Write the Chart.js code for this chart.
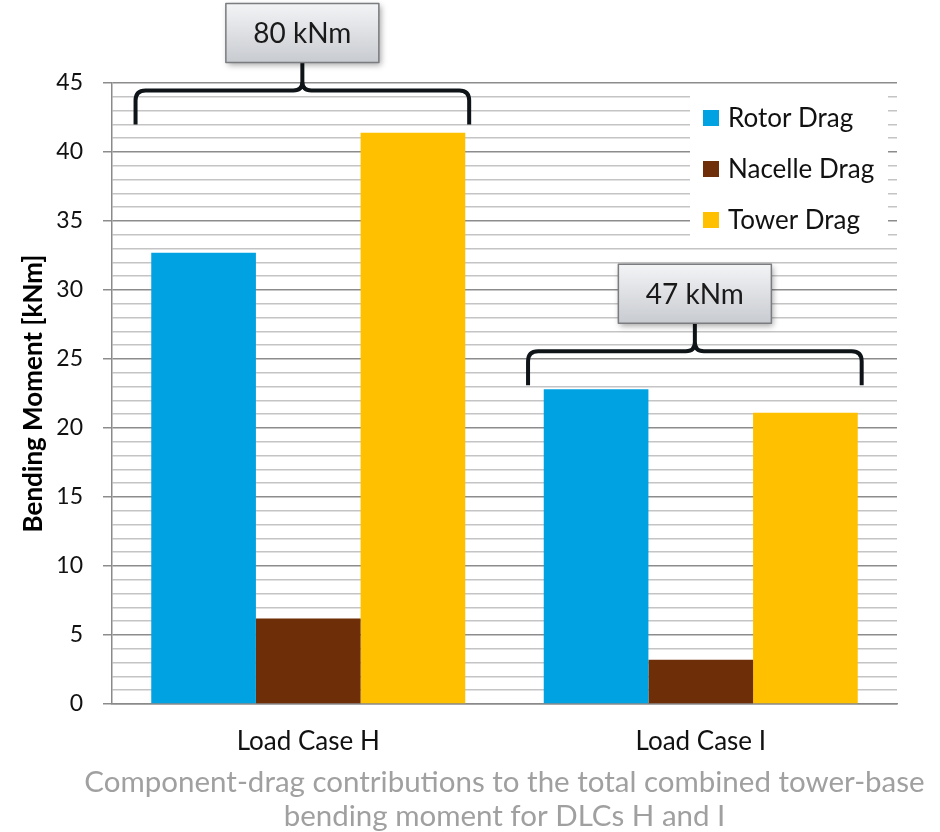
<!DOCTYPE html>
<html>
<head>
<meta charset="utf-8">
<title>Tower-base bending moment</title>
<script src="https://cdn.jsdelivr.net/npm/chart.js@4.4.1/dist/chart.umd.min.js"></script>
<style>
  html, body { margin: 0; padding: 0; background: #fff; }
  #wrap { width: 940px; height: 832px; position: relative; }
</style>
</head>
<body>
<div id="wrap"><canvas id="chart"></canvas></div>
<script>
// Load cases and the drag contribution of each component [kNm]
const categories = ['Load Case H', 'Load Case I'];
const rotorDrag = [32.7, 22.8];
const nacelleDrag = [6.2, 3.2];
const towerDrag = [41.4, 21.1];

// Totals shown above each group, and the value where the brace ends sit
const totalLabels = ['80 kNm', '47 kNm'];
const braceBase = [42, 23.1];

const captionLines = [
  'Component-drag contributions to the total combined tower-base',
  'bending moment for DLCs H and I',
];

const FONT = 'Lato, "Open Sans", sans-serif';

// ── Legend box drawn inside the plot area ────────────────────────────────────
const innerLegend = {
  id: 'innerLegend',
  afterDatasetsDraw(chart) {
    const { ctx, chartArea } = chart;
    const right = chartArea.right - 9;
    const left = right - 198;
    const top = chartArea.top + 2;
    ctx.save();
    ctx.fillStyle = '#fff';
    ctx.fillRect(left, top, 198, 160);
    ctx.font = `26px ${FONT}`;
    ctx.textBaseline = 'middle';
    chart.data.datasets.forEach((ds, i) => {
      const cy = top + 33 + i * 51;
      ctx.fillStyle = ds.backgroundColor;
      ctx.fillRect(left + 13, cy - 8, 16, 16);
      ctx.fillStyle = '#111';
      ctx.fillText(ds.label, left + 38, cy + 1);
    });
    ctx.restore();
  }
};

// ── Curly braces with the total in a box ─────────────────────────────────────
function drawBrace(ctx, x1, x2, yb) {
  const xc = (x1 + x2) / 2;
  const yh = yb - 34;
  const r = 10, r2 = 9;
  ctx.beginPath();
  ctx.moveTo(x1, yb);
  ctx.lineTo(x1, yh + r);
  ctx.quadraticCurveTo(x1, yh, x1 + r, yh);
  ctx.lineTo(xc - r2, yh);
  ctx.quadraticCurveTo(xc, yh, xc, yh - r2);
  ctx.quadraticCurveTo(xc, yh, xc + r2, yh);
  ctx.lineTo(x2 - r, yh);
  ctx.quadraticCurveTo(x2, yh, x2, yh + r);
  ctx.lineTo(x2, yb);
  ctx.moveTo(xc, yh - r2);
  ctx.lineTo(xc, yb - 62);
  ctx.stroke();
}

function drawTotalBox(ctx, xc, bottom, text) {
  const w = 153, h = 59;
  const bx = xc - w / 2, by = bottom - h;
  ctx.save();
  const g = ctx.createLinearGradient(0, by, 0, by + h);
  g.addColorStop(0, '#f3f4f6');
  g.addColorStop(1, '#c8cbd0');
  ctx.shadowColor = 'rgba(0,0,0,0.35)';
  ctx.shadowBlur = 6;
  ctx.shadowOffsetX = 2;
  ctx.shadowOffsetY = 3;
  ctx.fillStyle = g;
  ctx.fillRect(bx, by, w, h);
  ctx.restore();
  ctx.save();
  ctx.strokeStyle = '#7a7c80';
  ctx.lineWidth = 1.5;
  ctx.strokeRect(bx, by, w, h);
  ctx.fillStyle = '#1a1a1a';
  ctx.font = `28px ${FONT}`;
  ctx.textAlign = 'center';
  ctx.textBaseline = 'middle';
  ctx.fillText(text, xc, by + h / 2 + 1);
  ctx.restore();
}

const totalBraces = {
  id: 'totalBraces',
  afterDatasetsDraw(chart) {
    const { ctx, scales: { x, y } } = chart;
    const catW = x.getPixelForValue(1) - x.getPixelForValue(0);
    ctx.save();
    ctx.strokeStyle = '#0e1418';
    ctx.lineWidth = 4;
    ctx.lineJoin = 'round';
    categories.forEach((_, i) => {
      const c = x.getPixelForValue(i);
      const x1 = c - 0.44 * catW;
      const x2 = c + 0.41 * catW;
      const yb = y.getPixelForValue(braceBase[i]);
      drawBrace(ctx, x1, x2, yb);
      drawTotalBox(ctx, (x1 + x2) / 2, yb - 62, totalLabels[i]);
    });
    ctx.restore();
  }
};

// ── Caption under the axis, centred on the plot area ─────────────────────────
const caption = {
  id: 'caption',
  afterDraw(chart) {
    const { ctx, chartArea } = chart;
    const cx = (chartArea.left + chartArea.right) / 2;
    ctx.save();
    ctx.fillStyle = '#a0a0a0';
    ctx.font = `29.5px ${FONT}`;
    ctx.textAlign = 'center';
    ctx.textBaseline = 'middle';
    captionLines.forEach((line, i) => {
      ctx.fillText(line, cx, chartArea.bottom + 78 + i * 34);
    });
    ctx.restore();
  }
};

// ── Chart ────────────────────────────────────────────────────────────────────
function buildChart() {
  const ctx = document.getElementById('chart').getContext('2d');
  new Chart(ctx, {
    type: 'bar',
    data: {
      labels: categories,
      datasets: [
        { label: 'Rotor Drag', data: rotorDrag, backgroundColor: '#00a2e1' },
        { label: 'Nacelle Drag', data: nacelleDrag, backgroundColor: '#6e2e08' },
        { label: 'Tower Drag', data: towerDrag, backgroundColor: '#ffc000' },
      ],
    },
    options: {
      responsive: true,
      maintainAspectRatio: false,
      animation: false,
      layout: { padding: { top: 83, right: 43, left: 0, bottom: 0 } },
      datasets: {
        bar: { categoryPercentage: 0.8, barPercentage: 1.0, borderWidth: 0 },
      },
      plugins: {
        legend: { display: false },
        tooltip: { enabled: false },
        title: { display: false },
      },
      scales: {
        x: {
          afterFit: s => { s.height = 128; },
          grid: { display: false, drawTicks: false },
          border: { color: '#8a8a8a', width: 1.5 },
          ticks: { color: '#111', padding: 22, font: { family: FONT, size: 26 } },
        },
        y: {
          min: 0,
          max: 45,
          afterFit: s => { s.width = 112; },
          border: { color: '#8a8a8a', width: 1.5 },
          grid: {
            lineWidth: 1.5,
            tickLength: 9,
            color: c => (c.tick.value % 5 === 0 ? '#8c8c8c' : '#c4c4c4'),
            tickColor: c => (c.tick.value % 5 === 0 ? '#8c8c8c' : 'rgba(0,0,0,0)'),
          },
          ticks: {
            stepSize: 1,
            autoSkip: false,
            padding: 20,
            color: '#111',
            font: { family: FONT, size: 23 },
            callback: v => (v % 5 === 0 ? v : ''),
          },
          title: {
            display: true,
            text: 'Bending Moment [kNm]',
            color: '#000',
            font: { family: FONT, size: 26, weight: 'bold' },
            padding: { top: 18, bottom: 0 },
          },
        },
      },
    },
    plugins: [innerLegend, totalBraces, caption],
  });
}

Promise.all([
  document.fonts.load(`24px Lato`),
  document.fonts.load(`bold 24px Lato`),
]).catch(() => {}).then(buildChart);
</script>
</body>
</html>
